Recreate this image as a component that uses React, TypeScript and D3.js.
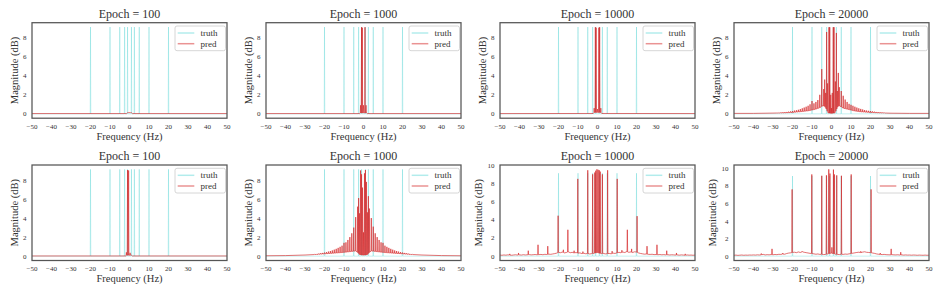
import React, { useRef, useEffect } from 'react';
import * as d3 from 'd3';

type Pt = [number, number];

const W = 942;
const H = 295;

const epochs = [100, 1000, 10000, 20000];
const xTicks = [-50, -40, -30, -20, -10, 0, 10, 20, 30, 40, 50];

// ground-truth spectrum: single-bin spikes, zero elsewhere
const truthFreqs = [-20, -10, -5, -2.5, -1, 1, 2.5, 5, 10, 20];
const truthMags = [9.12, 9.12, 9.12, 9.12, 9.12, 9.12, 9.12, 9.12, 9.12, 9.12];
const truthFloor: Pt[] = [[-50, 0], [50, 0]];

// predicted spectra: floor = slow baseline, peaks = [freq, magnitude]
const topE100Floor: Pt[] = [[-50, 0.03], [-1.5, 0.03], [-1, 0.12], [1, 0.12], [1.5, 0.03], [50, 0.03]];
const topE100Peaks: Pt[] = [[-0.3, 0.16], [0.4, 0.15]];

const topE1000Floor: Pt[] = [[-50, 0.03], [-2, 0.03], [-1.6, 0.1], [1.6, 0.1], [2, 0.03], [50, 0.03]];
const topE1000Peaks: Pt[] = [[-1.5, 0.9], [-1.0, 9.1], [-0.6, 9.05], [0, 0.9], [0.75, 9.1], [1.3, 0.9]];

const topE10000Floor: Pt[] = [[-50, 0.03], [-2.2, 0.04], [-1.8, 0.15], [1.8, 0.15], [2.2, 0.04], [50, 0.03]];
const topE10000Peaks: Pt[] = [[-1.7, 0.6], [-1.1, 9.1], [-0.7, 9.05], [0, 0.5], [0.7, 9.05], [1.1, 9.1], [1.7, 0.6]];

const topE20000Floor: Pt[] = [
  [-50, 0.05], [-40, 0.05], [-30, 0.08], [-25, 0.1], [-20, 0.15], [-15, 0.25], [-12, 0.32], [-10, 0.4],
  [-8, 0.5], [-6, 0.65], [-4.5, 0.85], [-3.5, 0.8], [-2.5, 0.45], [-1.8, 0.1], [0, 0.05], [1.8, 0.1],
  [2.5, 0.45], [3.5, 0.85], [4.5, 0.8], [6, 0.6], [8, 0.5], [10, 0.4], [12, 0.3], [15, 0.22], [20, 0.15],
  [25, 0.1], [30, 0.07], [40, 0.05], [50, 0.05],
];
const topE20000Peaks: Pt[] = [
  [-28, 0.1], [-27, 0.12], [-26, 0.14], [-25, 0.16], [-24, 0.18], [-23, 0.2], [-22, 0.23], [-21, 0.26],
  [-20, 0.3], [-19, 0.34], [-18, 0.38], [-17, 0.43], [-16, 0.5], [-15, 0.58], [-14, 0.66], [-13, 0.75],
  [-12, 0.85], [-11, 1.0], [-10, 1.35], [-9, 1.1], [-8, 1.25], [-7, 1.45], [-6, 2.0], [-5, 4.7], [-4, 2.6],
  [-3.5, 3.6], [-3, 2.2], [-2.5, 8.6], [-2, 3.2], [-1.3, 9.1], [-0.9, 9.1], [-0.4, 2.0], [0, 0.6],
  [0.4, 2.2], [0.9, 9.1], [1.3, 9.1], [2, 3.4], [2.5, 8.5], [3, 2.4], [3.5, 4.3], [4, 2.8], [5, 2.4],
  [6, 1.9], [7, 1.5], [8, 1.25], [9, 1.05], [10, 0.95], [11, 0.85], [12, 0.75], [13, 0.66], [14, 0.58],
  [15, 0.52], [16, 0.46], [17, 0.4], [18, 0.35], [19, 0.32], [20, 0.3], [21, 0.26], [22, 0.23], [23, 0.2],
  [24, 0.18], [25, 0.16], [26, 0.14], [27, 0.12], [28, 0.1],
];

const botE100Floor: Pt[] = [[-50, 0.02], [-2, 0.02], [-1.5, 0.1], [1, 0.1], [1.5, 0.02], [50, 0.02]];
const botE100Peaks: Pt[] = [[-1.6, 0.4], [-1.0, 9.05], [-0.45, 9.0], [0.3, 0.35]];

const botE1000Floor: Pt[] = [
  [-50, 0.04], [-40, 0.06], [-30, 0.12], [-25, 0.17], [-20, 0.25], [-15, 0.32], [-10, 0.4], [-6, 0.5],
  [-4, 0.55], [-3, 0.4], [-2, 0.15], [0, 0.1], [2, 0.15], [3, 0.4], [4, 0.55], [6, 0.5], [10, 0.4],
  [15, 0.32], [20, 0.25], [25, 0.17], [30, 0.12], [40, 0.06], [50, 0.04],
];
const botE1000Peaks: Pt[] = [
  [-25, 0.2], [-24, 0.23], [-23, 0.26], [-22, 0.3], [-21, 0.34], [-20, 0.38], [-19, 0.43], [-18, 0.48],
  [-17, 0.54], [-16, 0.6], [-15, 0.68], [-14, 0.77], [-13, 0.87], [-12, 0.98], [-11, 1.1], [-10, 1.4],
  [-9, 1.45], [-8, 1.7], [-7, 2.0], [-6, 2.4], [-5, 3.0], [-4, 4.1], [-3, 5.2], [-2.5, 6.1], [-2, 4.5],
  [-1.5, 9.0], [-1.0, 8.6], [-0.5, 7.2], [0, 2.5], [0.5, 8.7], [1.0, 9.05], [1.5, 7.8], [2, 4.6],
  [2.5, 6.3], [3, 5.0], [4, 4.0], [5, 3.1], [6, 2.4], [7, 2.0], [8, 1.7], [9, 1.45], [10, 1.4],
  [11, 1.1], [12, 0.98], [13, 0.87], [14, 0.77], [15, 0.68], [16, 0.6], [17, 0.54], [18, 0.48],
  [19, 0.43], [20, 0.38], [21, 0.34], [22, 0.3], [23, 0.26], [24, 0.23], [25, 0.2],
];

// late-epoch floors are noisy: one value per Hz from -50 to 50
const botE10000FloorVals = [
  0.12, 0.1, 0.13, 0.11, 0.14, 0.12, 0.1, 0.13, 0.15, 0.12,
  0.14, 0.12, 0.16, 0.13, 0.15, 0.17, 0.14, 0.16, 0.18, 0.15,
  0.17, 0.19, 0.16, 0.2, 0.18, 0.22, 0.2, 0.24, 0.28, 0.33,
  0.42, 0.38, 0.45, 0.36, 0.4, 0.48, 0.38, 0.42, 0.35, 0.4,
  0.33, 0.36, 0.28, 0.32, 0.26, 0.3, 0.24, 0.28, 0.3, 0.35,
  0.4,
  0.32, 0.28, 0.3, 0.25, 0.27, 0.3, 0.26, 0.33, 0.3, 0.36,
  0.42, 0.38, 0.45, 0.4, 0.5, 0.42, 0.46, 0.4, 0.48, 0.45,
  0.36, 0.3, 0.26, 0.22, 0.24, 0.2, 0.19, 0.21, 0.17, 0.18,
  0.16, 0.18, 0.15, 0.17, 0.14, 0.16, 0.13, 0.15, 0.14, 0.12,
  0.13, 0.11, 0.14, 0.12, 0.1, 0.13, 0.11, 0.12, 0.1, 0.12,
];
const botE10000Peaks: Pt[] = [
  [-45, 0.25], [-40.5, 0.35], [-35.5, 0.6], [-30.5, 1.25], [-25.5, 1.1], [-20.2, 4.45], [-17.5, 0.7],
  [-15.2, 2.9], [-12, 0.6], [-10.1, 8.5], [-7.5, 0.5], [-5, 9.45], [-2.5, 9.0], [-1.4, 9.2], [-0.9, 9.4],
  [-0.3, 9.55], [0.3, 9.5], [0.9, 9.45], [1.4, 9.3], [2.5, 9.0], [5.2, 9.45], [7.5, 0.55], [10.1, 8.5],
  [12.5, 0.65], [15.3, 2.9], [17.5, 0.8], [20.3, 4.4], [25.4, 1.1], [30.5, 1.25], [35.5, 0.6],
  [40.5, 0.35], [45, 0.25],
];

const botE20000FloorVals = [
  0.1, 0.12, 0.09, 0.11, 0.13, 0.1, 0.12, 0.11, 0.13, 0.12,
  0.14, 0.12, 0.15, 0.13, 0.16, 0.2, 0.14, 0.17, 0.15, 0.18,
  0.16, 0.19, 0.17, 0.21, 0.2, 0.24, 0.22, 0.3, 0.35, 0.38,
  0.42, 0.45, 0.4, 0.48, 0.42, 0.5, 0.44, 0.4, 0.36, 0.32,
  0.3, 0.26, 0.22, 0.25, 0.2, 0.22, 0.18, 0.2, 0.25, 0.3,
  0.35,
  0.28, 0.22, 0.2, 0.18, 0.22, 0.2, 0.24, 0.22, 0.26, 0.3,
  0.34, 0.38, 0.42, 0.45, 0.4, 0.46, 0.5, 0.44, 0.42, 0.4,
  0.36, 0.32, 0.26, 0.22, 0.2, 0.18, 0.2, 0.17, 0.16, 0.15,
  0.17, 0.15, 0.14, 0.16, 0.13, 0.15, 0.12, 0.14, 0.12, 0.13,
  0.11, 0.13, 0.12, 0.1, 0.12, 0.11, 0.1, 0.12, 0.1, 0.11,
];
const botE20000Peaks: Pt[] = [
  [-36, 0.3], [-30.5, 0.83], [-25, 0.35], [-20.2, 7.6], [-15, 0.55], [-10.1, 9.3], [-5, 9.15],
  [-2.6, 9.2], [-1.4, 9.88], [-0.8, 9.4], [0.2, 1.0], [1.0, 9.85], [1.5, 9.3], [2.7, 9.2], [5.1, 9.15],
  [10.1, 9.3], [15, 0.55], [20.3, 7.6], [25, 0.35], [30.6, 0.83], [35.5, 0.45],
];

const hzGrid = d3.range(-50, 51);
const gridFloor = (vals: number[]): Pt[] => vals.map((v, i) => [hzGrid[i], v]);

const panels = [
  { row: 0, col: 0, floor: topE100Floor, peaks: topE100Peaks },
  { row: 0, col: 1, floor: topE1000Floor, peaks: topE1000Peaks },
  { row: 0, col: 2, floor: topE10000Floor, peaks: topE10000Peaks },
  { row: 0, col: 3, floor: topE20000Floor, peaks: topE20000Peaks },
  { row: 1, col: 0, floor: botE100Floor, peaks: botE100Peaks },
  { row: 1, col: 1, floor: botE1000Floor, peaks: botE1000Peaks },
  { row: 1, col: 2, floor: gridFloor(botE10000FloorVals), peaks: botE10000Peaks },
  { row: 1, col: 3, floor: gridFloor(botE20000FloorVals), peaks: botE20000Peaks },
];

const TRUTH_COLOR = '#00bfbf';
const TRUTH_ALPHA = 0.22;
const PRED_COLOR = '#d62728';
const PRED_ALPHA = 0.65;
const FONT = '"Liberation Serif", "Times New Roman", serif';

// spikes are one bin wide: baseline -> peak -> baseline
function spectrum(floor: Pt[], peaks: Pt[], hw: number): Pt[] {
  const base = d3.scaleLinear().domain(floor.map(d => d[0])).range(floor.map(d => d[1]));
  const pts: Pt[] = floor.filter(([f]) => !peaks.some(([p]) => Math.abs(f - p) <= hw));
  peaks.forEach(([p, h]) => {
    pts.push([p - hw, base(p - hw)], [p, h], [p + hw, base(p + hw)]);
  });
  return pts.sort((a, b) => a[0] - b[0]);
}

const SpectrumGrid: React.FC = () => {
  const ref = useRef<SVGSVGElement>(null);

  useEffect(() => {
    if (!ref.current) return;
    const svg = d3.select(ref.current);
    svg.selectAll('*').remove();

    const rowTops = [22.7, 165];
    const pw = 195;
    const ph = 95.5;
    const truth = spectrum(truthFloor, truthFreqs.map((f, k) => [f, truthMags[k]] as Pt), 0.15);

    panels.forEach((p, i) => {
      const left = 32 + p.col * 234;
      const top = rowTops[p.row];
      const pred = spectrum(p.floor, p.peaks, 0.15);

      const ymax = d3.max([...truth, ...pred], d => d[1]) as number;
      const pad = ymax * 0.05;
      const x = d3.scaleLinear().domain([-50, 50]).range([left, left + pw]);
      const y = d3.scaleLinear().domain([-pad, ymax + pad]).range([top + ph, top]);

      const g = svg.append('g').style('font-family', FONT);
      const clipId = `clip-${i}`;
      g.append('clipPath').attr('id', clipId)
        .append('rect').attr('x', left).attr('y', top).attr('width', pw).attr('height', ph);

      const line = d3.line<Pt>().x(d => x(d[0])).y(d => y(d[1]));
      const plot = g.append('g').attr('clip-path', `url(#${clipId})`);
      plot.append('path').attr('d', line(truth)).attr('fill', 'none')
        .attr('stroke', TRUTH_COLOR).attr('stroke-opacity', TRUTH_ALPHA).attr('stroke-width', 1);
      plot.append('path').attr('d', line(pred)).attr('fill', 'none')
        .attr('stroke', PRED_COLOR).attr('stroke-opacity', PRED_ALPHA).attr('stroke-width', 1);

      // frame
      g.append('rect').attr('x', left).attr('y', top).attr('width', pw).attr('height', ph)
        .attr('fill', 'none').attr('stroke', '#555').attr('stroke-width', 1.25);

      // ticks
      xTicks.forEach(t => {
        g.append('text').attr('x', x(t)).attr('y', top + ph + 10.5)
          .attr('text-anchor', 'middle').attr('font-size', 7)
          .attr('fill', '#333').text(d3.format('d')(t));
      });
      const yTicks = y.ticks(5);
      yTicks.forEach(t => {
        g.append('text').attr('x', left - 5.5).attr('y', y(t) + 2.5)
          .attr('text-anchor', 'end').attr('font-size', 7)
          .attr('fill', '#333').text(d3.format('d')(t));
      });
      const wide = (d3.max(yTicks) as number) >= 10 ? 3.5 : 0;

      // labels
      g.append('text').attr('x', left + pw / 2).attr('y', top - 5)
        .attr('text-anchor', 'middle').attr('font-size', 12)
        .attr('fill', '#333').text(`Epoch = ${epochs[p.col]}`);
      g.append('text').attr('x', left + pw / 2).attr('y', top + ph + 21.5)
        .attr('text-anchor', 'middle').attr('font-size', 10.5)
        .attr('fill', '#333').text('Frequency (Hz)');
      g.append('text')
        .attr('transform', `translate(${left - 14.5 - wide},${top + ph / 2}) rotate(-90)`)
        .attr('text-anchor', 'middle').attr('font-size', 10.5)
        .attr('fill', '#333').text('Magnitude (dB)');

      // legend
      const lx = left + pw - 52;
      const ly = top + 3.3;
      const leg = g.append('g');
      leg.append('rect').attr('x', lx).attr('y', ly).attr('width', 50.5).attr('height', 24.7)
        .attr('rx', 2).attr('fill', '#fff').attr('fill-opacity', 0.8)
        .attr('stroke', '#ccc').attr('stroke-width', 0.8);
      const items: [string, string, number][] = [['truth', TRUTH_COLOR, 0.3], ['pred', PRED_COLOR, 0.5]];
      items.forEach(([name, c, op], k) => {
        const yy = ly + 7 + k * 10.7;
        leg.append('line').attr('x1', lx + 2.7).attr('x2', lx + 19.3).attr('y1', yy).attr('y2', yy)
          .attr('stroke', c).attr('stroke-opacity', op).attr('stroke-width', 1.5);
        leg.append('text').attr('x', lx + 25.5).attr('y', yy + 3)
          .attr('font-size', 9).attr('fill', '#333').text(name);
      });
    });
  }, []);

  return (
    <svg ref={ref} width={W} height={H}
      style={{ position: 'absolute', left: 0, top: 0, background: '#fff' }} />
  );
};

export default function App() {
  return <SpectrumGrid />;
}
